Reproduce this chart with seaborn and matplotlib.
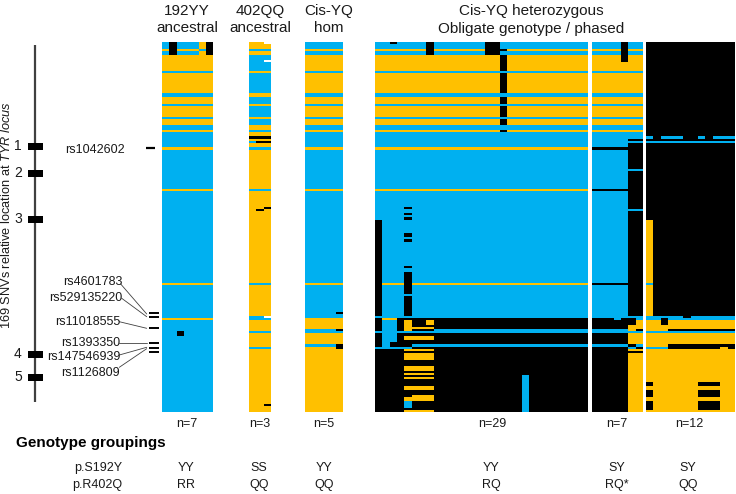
import numpy as np
import pandas as pd
import seaborn as sns
import matplotlib.pyplot as plt
from matplotlib.colors import ListedColormap

BLUE, YEL, BLK, WHT = 0, 1, 2, 3
N_SNV = 169

# rows where the common haplotype pattern has the yellow allele
yellow_rows = [(3, 4), (6, 13), (14, 23), (25, 28), (29, 34), (35, 38), (40, 41),
               (48, 49), (67, 68), (110, 111), (126, 127)]
# same idea for the 402QQ group, which is mostly yellow
blue_rows_402 = [(3, 4), (6, 13), (14, 23), (25, 28), (29, 34), (35, 38), (40, 41),
                 (48, 49), (67, 68), (110, 111), (126, 127), (132, 133), (139, 140)]

# overrides: first row, stop row, first sample, stop sample, call
calls_192 = [(0, 6, 1, 2, BLK), (0, 6, 6, 7, BLK), (0, 3, 5, 6, YEL), (3, 4, 5, 6, BLUE),
             (4, 6, 5, 6, YEL), (132, 134, 2, 3, BLK)]
calls_402 = [(0, 1, 2, 3, WHT), (8, 9, 2, 3, WHT), (43, 44, 0, 3, BLK), (45, 46, 0, 1, BLUE),
             (45, 46, 1, 3, BLK), (75, 76, 2, 3, BLK), (76, 77, 1, 2, BLK),
             (125, 126, 0, 2, BLUE), (125, 126, 2, 3, WHT), (165, 166, 2, 3, BLK)]
calls_hom = [(123, 124, 4, 5, BLK), (127, 131, 0, 5, YEL), (131, 133, 0, 5, BLUE),
             (131, 132, 4, 5, BLK), (133, 169, 0, 5, YEL), (138, 139, 0, 5, BLUE),
             (138, 140, 4, 5, BLK)]
calls_het = [(0, 1, 2, 3, BLK), (0, 6, 7, 8, BLK), (0, 6, 15, 17, BLK),
             (3, 4, 17, 18, BLK), (6, 13, 17, 18, BLK), (14, 23, 17, 18, BLK),
             (25, 28, 17, 18, BLK), (29, 34, 17, 18, BLK), (35, 38, 17, 18, BLK),
             (40, 41, 17, 18, BLK),
             (81, 125, 0, 1, BLK),
             (75, 76, 4, 5, BLK), (78, 79, 4, 5, BLK), (80, 81, 4, 5, BLK),
             (87, 89, 4, 5, BLK), (90, 91, 4, 5, BLK), (102, 103, 4, 5, BLK),
             (105, 115, 4, 5, BLK), (116, 125, 4, 5, BLK),
             (126, 169, 0, 29, BLK), (126, 127, 1, 3, YEL),
             (127, 140, 1, 2, BLUE), (127, 137, 2, 3, BLUE),
             (127, 132, 4, 5, YEL), (127, 129, 7, 8, YEL), (130, 131, 5, 8, YEL),
             (131, 133, 8, 29, BLUE), (132, 133, 0, 8, BLUE),
             (134, 136, 4, 8, YEL), (138, 139, 5, 29, BLUE), (139, 140, 0, 5, BLUE),
             (140, 141, 4, 8, YEL), (142, 145, 4, 8, YEL), (148, 150, 4, 8, YEL),
             (151, 152, 4, 8, YEL), (153, 154, 4, 8, YEL), (157, 159, 4, 8, YEL),
             (161, 164, 5, 8, YEL), (162, 164, 4, 5, YEL), (164, 167, 4, 5, BLUE),
             (168, 169, 4, 8, YEL), (152, 169, 20, 21, BLUE)]
calls_star = [(0, 9, 4, 5, BLK), (44, 45, 5, 7, BLK), (46, 58, 5, 7, BLK), (59, 76, 5, 7, BLK),
              (77, 125, 5, 7, BLK), (48, 49, 0, 5, BLK), (67, 68, 0, 5, BLK), (110, 111, 0, 5, BLK),
              (126, 169, 0, 5, BLK), (126, 127, 3, 4, BLUE), (126, 129, 5, 6, BLK), (126, 127, 6, 7, BLUE),
              (127, 169, 5, 7, YEL), (126, 129, 5, 6, BLK), (131, 132, 6, 7, BLK),
              (131, 133, 0, 5, BLUE), (132, 133, 5, 7, BLUE),
              (138, 139, 0, 5, BLUE), (138, 139, 5, 6, BLK), (138, 139, 6, 7, BLUE),
              (139, 140, 5, 6, BLUE), (139, 140, 6, 7, BLK), (141, 142, 5, 7, BLK)]
calls_qq = [(0, 169, 0, 12, BLK), (43, 44, 0, 1, BLUE), (43, 44, 2, 5, BLUE), (43, 44, 7, 8, BLUE),
            (43, 44, 9, 12, BLUE), (45, 46, 0, 12, BLUE), (81, 125, 0, 1, YEL), (110, 111, 0, 1, BLUE),
            (125, 127, 0, 12, BLUE), (125, 126, 5, 6, BLK),
            (127, 131, 0, 12, YEL), (131, 132, 3, 12, BLK), (131, 132, 0, 3, YEL), (132, 133, 0, 12, BLUE),
            (133, 138, 0, 12, YEL), (138, 139, 0, 3, YEL), (139, 140, 0, 3, BLUE),
            (139, 140, 10, 11, YEL), (140, 169, 0, 12, YEL),
            (138, 140, 3, 10, BLK), (138, 139, 10, 11, BLK), (138, 140, 11, 12, BLK),
            (126, 129, 2, 3, BLK),
            (155, 157, 0, 1, BLK), (155, 157, 7, 10, BLK),
            (159, 162, 0, 1, BLK), (159, 162, 7, 10, BLK),
            (164, 168, 0, 1, BLK), (164, 168, 7, 10, BLK)]

group_sizes = [7, 3, 5, 29, 7, 12]
count_labels = ['n=7', 'n=3', 'n=5', 'n=29', 'n=7', 'n=12']
s192y_labels = ['YY', 'SS', 'YY', 'YY', 'SY', 'SY']
r402q_labels = ['RR', 'QQ', 'QQ', 'RQ', 'RQ*', 'QQ']

snv_names = ['rs4601783', 'rs529135220', 'rs11018555', 'rs1393350', 'rs147546939', 'rs1126809']
snv_rows = [123, 125, 130, 137, 139, 141]
first_snv_name = 'rs1042602'
first_snv_row = 48
exon_names = ['1', '2', '3', '4', '5']
exon_y = [146, 173, 219, 354, 377]


def build(n_cols, base, start_call, calls):
    m = np.full((N_SNV, n_cols), start_call)
    other = YEL if start_call == BLUE else BLUE
    for a, b in base:
        m[a:b, :] = other
    for r0, r1, c0, c1, call in calls:
        m[r0:r1, c0:c1] = call
    return pd.DataFrame(m)


W, H = 736, 494

sns.set_theme(style='white')
plt.rcParams['font.family'] = ['Liberation Sans', 'DejaVu Sans']
plt.rcParams['mathtext.fontset'] = 'custom'
plt.rcParams['mathtext.rm'] = 'Liberation Sans'
plt.rcParams['mathtext.it'] = 'Liberation Sans:italic'

fig = plt.figure(figsize=(W / 100, H / 100), dpi=100)
cmap = ListedColormap(['#00B0F0', '#FFC000', '#000000', '#FFFFFF'])

panels = [
    (build(group_sizes[0], yellow_rows, BLUE, calls_192), 162, 213.3),
    (build(group_sizes[1], blue_rows_402, YEL, calls_402), 249, 271.5),
    (build(group_sizes[2], yellow_rows, BLUE, calls_hom), 305, 343.3),
    (build(group_sizes[3], yellow_rows, BLUE, calls_het), 375, 588),
    (build(group_sizes[4], yellow_rows, BLUE, calls_star), 591.5, 643),
    (build(group_sizes[5], [], BLK, calls_qq), 646, 735),
]
TOP, BOTTOM = 42.3, 412.3


def px_axes(x0, x1, y0, y1):
    return fig.add_axes([x0 / W, 1 - y1 / H, (x1 - x0) / W, (y1 - y0) / H])


for df, x0, x1 in panels:
    ax = px_axes(x0, x1, TOP, BOTTOM)
    sns.heatmap(df, ax=ax, cmap=cmap, vmin=-0.5, vmax=3.5, cbar=False,
                xticklabels=False, yticklabels=False)

# annotation layer, in pixel units of the figure
ann = fig.add_axes([0, 0, 1, 1], zorder=5)
ann.set_xlim(0, W)
ann.set_ylim(H, 0)
ann.axis('off')
ann.patch.set_alpha(0)


def row_y(r):
    return TOP + (r + 0.5) * (BOTTOM - TOP) / N_SNV


DARK = '#404040'
TXT = '#1a1a1a'
ann.plot([35, 35], [45, 402], color=DARK, lw=1.6, solid_capstyle='butt', zorder=1)
for name, y in zip(exon_names, exon_y):
    ann.fill_between([28, 43], y - 3.5, y + 3.5, color='black', lw=0, zorder=2)
    ann.text(18, y, name, ha='center', va='center', fontsize=10, color=TXT)

ann.text(7, 215, r'169 SNVs relative location at $\mathit{TYR\ locus}$', rotation=90,
         ha='center', va='center', fontsize=9.2, color=TXT)

# SNV ticks and their leader lines
ann.hlines(row_y(first_snv_row), 146, 155, color='black', lw=1.6)
ann.hlines([row_y(r) for r in snv_rows], 149, 158.5, color='black', lw=1.4)
ann.text(125, row_y(first_snv_row) + 2, first_snv_name, ha='right', va='center', fontsize=9, color=TXT)

label_y = [282.3, 298.3, 321.7, 342.7, 357.3, 372.7]
label_x = [122, 122, 120, 120, 120, 120]
lead_from = [(120.7, 284), (121.7, 298.3), (119.3, 321.7), (119.3, 342.7), (119.3, 355), (119.3, 367.3)]
lead_to = [(146.7, 314), (146.7, 316.7), (146.7, 328.3), (146.7, 342.7), (146.7, 347.3), (146.7, 348.7)]
for name, x, y, a, b in zip(snv_names, label_x, label_y, lead_from, lead_to):
    ann.text(x, y, name, ha='right', va='center', fontsize=9, color=TXT)
    ann.plot([a[0], b[0]], [a[1], b[1]], color=DARK, lw=0.6)

# group headers
heads = [(187, '192YY', 'ancestral'), (260, '402QQ', 'ancestral'), (329, 'Cis-YQ', 'hom'),
         (531, 'Cis-YQ heterozygous', 'Obligate genotype / phased')]
for x, l1, l2 in heads:
    ann.text(x, 11, l1, ha='center', va='center', fontsize=11, color=TXT)
    ann.text(x, 28.5, l2, ha='center', va='center', fontsize=11, color=TXT)

# rows under the panels
count_x = [187, 260, 324, 492, 617, 689]
geno_x = [186, 259, 324, 491, 617, 688]
for cx, gx, n, a, b in zip(count_x, geno_x, count_labels, s192y_labels, r402q_labels):
    ann.text(cx, 424, n, ha='center', va='center', fontsize=9, color=TXT)
    ann.text(gx, 468, a, ha='center', va='center', fontsize=9, color=TXT)
    ann.text(gx, 485, b, ha='center', va='center', fontsize=9, color=TXT)

ann.text(16, 443, 'Genotype groupings', ha='left', va='center', fontsize=11,
         fontweight='bold', color='black')
ann.text(122, 468, 'p.S192Y', ha='right', va='center', fontsize=9, color=TXT)
ann.text(122, 485, 'p.R402Q', ha='right', va='center', fontsize=9, color=TXT)

plt.savefig('out.png', dpi=100)
